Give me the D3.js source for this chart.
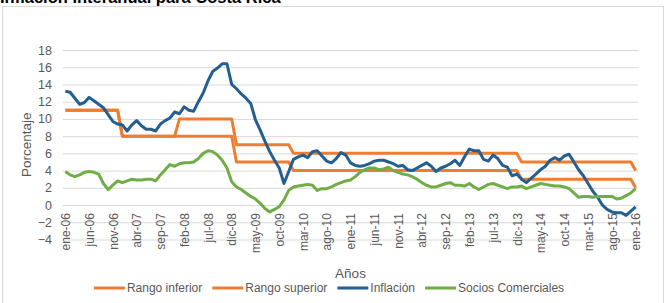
<!DOCTYPE html>
<html>
<head>
    <style>
        body { margin: 0; background: #fff; }
        svg { font-family: "Liberation Sans", Arial, sans-serif; }
        .tick text { fill: #595959; }
    </style>
</head>
<body>
<script src="https://d3js.org/d3.v7.min.js"></script>
<svg width="669" height="303"></svg>
<script>
    // Months ene-06 .. ene-16
    var monthNames = ["ene", "feb", "mar", "abr", "may", "jun", "jul", "ago", "sep", "oct", "nov", "dic"];
    var categories = [];
    for (var yr = 6; yr <= 16; yr++) {
        for (var m = 0; m < 12; m++) {
            if (yr === 16 && m > 0) break;
            categories.push(monthNames[m] + "-" + (yr < 10 ? "0" + yr : yr));
        }
    }

    var tickLabels = ["ene-06", "jun-06", "nov-06", "abr-07", "sep-07", "feb-08", "jul-08", "dic-08",
        "may-09", "oct-09", "mar-10", "ago-10", "ene-11", "jun-11", "nov-11", "abr-12", "sep-12",
        "feb-13", "jul-13", "dic-13", "may-14", "oct-14", "mar-15", "ago-15", "ene-16"];

    var yTicks = [-4, -2, 0, 2, 4, 6, 8, 10, 12, 14, 16, 18];

    var rangoInferior = [
        11, 11, 11, 11, 11, 11, 11, 11, 11, 11, 11, 11,
        8, 8, 8, 8, 8, 8, 8, 8, 8, 8, 8, 8,
        8, 8, 8, 8, 8, 8, 8, 8, 8, 8, 8, 8,
        5, 5, 5, 5, 5, 5, 5, 5, 5, 5, 5, 5,
        4, 4, 4, 4, 4, 4, 4, 4, 4, 4, 4, 4,
        4, 4, 4, 4, 4, 4, 4, 4, 4, 4, 4, 4,
        4, 4, 4, 4, 4, 4, 4, 4, 4, 4, 4, 4,
        4, 4, 4, 4, 4, 4, 4, 4, 4, 4, 4, 4,
        3, 3, 3, 3, 3, 3, 3, 3, 3, 3, 3, 3,
        3, 3, 3, 3, 3, 3, 3, 3, 3, 3, 3, 3,
        2];

    var rangoSuperior = [
        11, 11, 11, 11, 11, 11, 11, 11, 11, 11, 11, 11,
        8, 8, 8, 8, 8, 8, 8, 8, 8, 8, 8, 8,
        10, 10, 10, 10, 10, 10, 10, 10, 10, 10, 10, 10,
        7, 7, 7, 7, 7, 7, 7, 7, 7, 7, 7, 7,
        6, 6, 6, 6, 6, 6, 6, 6, 6, 6, 6, 6,
        6, 6, 6, 6, 6, 6, 6, 6, 6, 6, 6, 6,
        6, 6, 6, 6, 6, 6, 6, 6, 6, 6, 6, 6,
        6, 6, 6, 6, 6, 6, 6, 6, 6, 6, 6, 6,
        5, 5, 5, 5, 5, 5, 5, 5, 5, 5, 5, 5,
        5, 5, 5, 5, 5, 5, 5, 5, 5, 5, 5, 5,
        4];

    var inflacion = [
        13.2, 13.1, 12.4, 11.7, 11.9, 12.5, 12.1, 11.7, 11.3, 10.5,
        9.7, 9.4, 9.3, 8.6, 9.3, 9.8, 9.2, 8.8, 8.8, 8.6,
        9.4, 9.8, 10.1, 10.8, 10.6, 11.4, 11.0, 10.9, 12.0, 13.0,
        14.4, 15.5, 15.9, 16.4, 16.4, 14.0, 13.5, 12.9, 12.4, 11.8,
        9.9, 8.7, 7.4, 6.2, 5.2, 4.3, 2.5, 3.9, 5.3, 5.6,
        5.8, 5.5, 6.2, 6.3, 5.7, 5.1, 4.9, 5.4, 6.1, 5.8,
        4.9, 4.6, 4.5, 4.6, 4.8, 5.1, 5.2, 5.2, 5.0, 4.8,
        4.5, 4.6, 4.1, 4.0, 4.3, 4.6, 4.9, 4.5, 3.9, 4.3,
        4.5, 4.8, 5.2, 4.6, 5.6, 6.5, 6.3, 6.3, 5.3, 5.1,
        5.8, 5.4, 4.6, 4.4, 3.4, 3.6, 3.0, 2.6, 3.1, 3.6,
        4.1, 4.5, 5.2, 5.5, 5.2, 5.7, 5.9, 5.0, 4.1, 3.4,
        2.5, 1.6, 0.9, 0.0, -0.5, -0.8, -0.9, -0.9, -1.2, -0.7,
        -0.2];

    var sociosComerciales = [
        3.9, 3.5, 3.3, 3.5, 3.8, 3.9, 3.8, 3.6, 2.5, 1.8,
        2.3, 2.8, 2.6, 2.8, 3.0, 2.9, 2.9, 3.0, 3.0, 2.8,
        3.5, 4.1, 4.7, 4.5, 4.8, 4.9, 4.9, 5.0, 5.4, 6.0,
        6.3, 6.2, 5.8, 5.2, 4.3, 2.7, 2.1, 1.8, 1.4, 1.0,
        0.7, 0.2, -0.4, -0.8, -0.5, -0.2, 0.6, 1.7, 2.1, 2.2,
        2.3, 2.4, 2.3, 1.7, 1.9, 1.9, 2.1, 2.4, 2.6, 2.8,
        2.9, 3.3, 3.8, 4.1, 4.3, 4.3, 4.1, 4.2, 4.4, 4.0,
        3.8, 3.6, 3.5, 3.3, 3.0, 2.6, 2.3, 2.1, 2.1, 2.3,
        2.5, 2.6, 2.3, 2.3, 2.2, 2.5, 2.1, 1.8, 2.1, 2.4,
        2.5, 2.3, 2.1, 1.9, 2.1, 2.1, 2.2, 1.9, 2.1, 2.3,
        2.5, 2.4, 2.3, 2.2, 2.2, 2.1, 1.9, 1.4, 0.9, 1.0,
        1.0, 0.9, 1.0, 1.0, 1.0, 1.0, 0.7, 0.8, 1.1, 1.4,
        1.9];

    var seriesNames = ["Rango inferior", "Rango superior", "Inflación", "Socios Comerciales"];
    var seriesColors = ["#ED7D31", "#ED7D31", "#255E91", "#70AD47"];
    var seriesValues = [rangoInferior, rangoSuperior, inflacion, sociosComerciales];

    var svg = d3.select("svg");
    var plotLeft = 63, plotRight = 638, plotTop = 50, plotBottom = 239.5;

    // chart area border
    svg.append("rect")
        .attr("x", 2.5).attr("y", 6.5)
        .attr("width", 661).attr("height", 310)
        .attr("fill", "#fff")
        .attr("stroke", "#d9d9d9");

    // title (cut off at the top, like the source)
    svg.append("text")
        .attr("x", 0).attr("y", 3)
        .style("font-weight", "bold")
        .style("font-size", "16.5px")
        .text("Inflación Interanual para Costa Rica");

    var x = d3.scalePoint()
        .domain(categories)
        .range([plotLeft, plotRight])
        .padding(0.5);

    var y = d3.scaleLinear()
        .domain([-4, 18])
        .range([plotBottom, plotTop]);

    // y axis with gridlines
    var yAxis = svg.append("g")
        .attr("transform", "translate(" + plotLeft + ",0)")
        .call(d3.axisLeft(y).tickValues(yTicks).tickSize(-(plotRight - plotLeft)).tickPadding(11));
    yAxis.select(".domain").remove();
    yAxis.selectAll(".tick line").attr("stroke", "#d9d9d9");
    yAxis.selectAll(".tick text").style("font-size", "12.5px");

    // x axis sits on the zero line
    var xAxis = svg.append("g")
        .attr("transform", "translate(0," + y(0) + ")")
        .call(d3.axisBottom(x).tickValues(tickLabels).tickSize(0));
    xAxis.select(".domain").remove();
    xAxis.selectAll(".tick text")
        .style("font-size", "12px")
        .attr("text-anchor", "end")
        .attr("transform", "translate(0,8) rotate(-90)")
        .attr("x", 0).attr("y", 0)
        .attr("dy", "0.35em");

    // axis titles
    svg.append("text")
        .attr("transform", "translate(31," + ((plotTop + plotBottom) / 2) + ") rotate(-90)")
        .attr("text-anchor", "middle")
        .style("font-size", "13.5px")
        .attr("fill", "#595959")
        .text("Porcentaje");

    svg.append("text")
        .attr("x", (plotLeft + plotRight) / 2).attr("y", 278)
        .attr("text-anchor", "middle")
        .style("font-size", "13.5px")
        .attr("fill", "#595959")
        .text("Años");

    // lines
    var line = d3.line()
        .x(function(d, i) { return x(categories[i]); })
        .y(function(d) { return y(d); });

    seriesValues.forEach(function(vals, s) {
        svg.append("path")
            .datum(vals)
            .attr("fill", "none")
            .attr("stroke", seriesColors[s])
            .attr("stroke-width", 3)
            .attr("stroke-linejoin", "round")
            .attr("d", line);
    });

    // legend
    var legend = svg.append("g");
    var lx = 0;
    seriesNames.forEach(function(name, s) {
        var item = legend.append("g").attr("transform", "translate(" + lx + ",0)");
        item.append("line")
            .attr("x1", 0).attr("x2", 31)
            .attr("y1", 0).attr("y2", 0)
            .attr("stroke", seriesColors[s])
            .attr("stroke-width", 3);
        var t = item.append("text")
            .attr("x", 33).attr("dy", "0.35em")
            .style("font-size", "12px")
            .attr("fill", "#595959")
            .text(name);
        lx += 33 + t.node().getComputedTextLength() + 10;
    });
    var legendWidth = lx - 10;
    legend.attr("transform", "translate(" + (329 - legendWidth / 2) + ",288)");
</script>
</body>
</html>
